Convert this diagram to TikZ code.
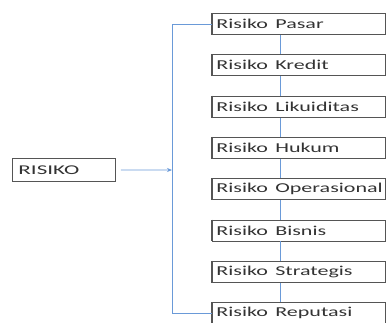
\documentclass[tikz,border=0pt]{standalone}
\usepackage{fontspec}
\setmainfont{Carlito}
\usetikzlibrary{arrows.meta}
\definecolor{boxline}{HTML}{555555}
\definecolor{txt}{HTML}{333333}
\definecolor{conn}{HTML}{6A9AD8}
\newcommand{\widetxt}[1]{\scalebox{1.62}[1]{#1}}
\newcommand{\widertxt}[1]{\scalebox{1.72}[1]{#1}}
\tikzset{
  riskbox/.style={draw=boxline, line width=0.9pt, fill=white, anchor=north west,
    minimum height=21pt, text width=165pt, inner xsep=4pt, inner ysep=0pt, align=left,
    text=txt, font=\fontsize{13.6}{14}\selectfont},
  rootbox/.style={draw=boxline, line width=0.9pt, fill=white, anchor=north west,
    minimum height=23pt, text width=91pt, inner xsep=6pt, inner ysep=0pt, align=left,
    text=txt, font=\fontsize{13.4}{14}\selectfont},
  busline/.style={draw=conn, line width=0.9pt},
  linkline/.style={draw=conn, line width=0.9pt},
  arrowline/.style={draw=conn, line width=0.8pt, -{Stealth[length=5pt,width=4pt]}}
}
\begin{document}
\begin{tikzpicture}[x=1pt,y=-1pt]
\useasboundingbox (0,0) rectangle (386,322);
\clip (0,0) rectangle (386,322);
\node[rootbox] (root) at (12,158) {\widertxt{RISIKO}};
\node[riskbox] (b1) at (212,13.0) {\widetxt{Risiko Pasar}};
\node[riskbox] (b2) at (212,54.3) {\widetxt{Risiko Kredit}};
\node[riskbox] (b3) at (212,95.6) {\widetxt{Risiko Likuiditas}};
\node[riskbox] (b4) at (212,136.9) {\widetxt{Risiko Hukum}};
\node[riskbox] (b5) at (212,178.2) {\widetxt{Risiko Operasional}};
\node[riskbox] (b6) at (212,219.5) {\widetxt{Risiko Bisnis}};
\node[riskbox] (b7) at (212,260.8) {\widetxt{Risiko Strategis}};
\node[riskbox] (b8) at (212,302.1) {\widetxt{Risiko Reputasi}};
\foreach \i in {1,...,8} {
  \draw[boxline, line width=1.6pt] (b\i.north west) -- (b\i.south west);
}
\foreach \i/\j in {1/2,2/3,3/4,4/5,5/6,6/7,7/8} {
  \draw[linkline] ([xshift=68pt]b\i.south west) -- ([xshift=68pt]b\j.north west);
}
\coordinate (bus) at (172,170);
\draw[busline] (b1.west) -- (b1.west -| bus) -- (b8.west -| bus) -- (b8.west);
\draw[arrowline] (root.east) ++(5,0) -- (bus);
\end{tikzpicture}
\end{document}
